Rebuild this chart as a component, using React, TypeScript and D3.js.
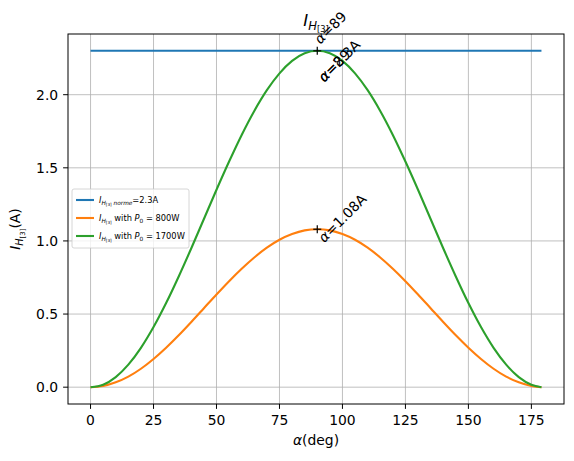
import { scaleLinear, line, curveMonotoneX } from "d3";
import type { ReactNode } from "react";

const angles = [0, 5, 10, 15, 20, 25, 30, 35, 40, 45, 50, 55, 60, 65, 70, 75, 80, 85, 90,
  95, 100, 105, 110, 115, 120, 125, 130, 135, 140, 145, 150, 155, 160, 165, 170, 175, 179];

const current800 = [0.0, 0.008, 0.033, 0.072, 0.126, 0.193, 0.27, 0.355, 0.446, 0.54, 0.634,
  0.725, 0.81, 0.887, 0.954, 1.008, 1.047, 1.072, 1.08, 1.072, 1.047, 1.008, 0.954, 0.887,
  0.81, 0.725, 0.634, 0.54, 0.446, 0.355, 0.27, 0.193, 0.126, 0.072, 0.033, 0.008, 0.0];

const current1700 = [0.0, 0.017, 0.069, 0.154, 0.269, 0.411, 0.575, 0.757, 0.95, 1.15, 1.35,
  1.543, 1.725, 1.889, 2.031, 2.146, 2.231, 2.283, 2.3, 2.283, 2.231, 2.146, 2.031, 1.889,
  1.725, 1.543, 1.35, 1.15, 0.95, 0.757, 0.575, 0.411, 0.269, 0.154, 0.069, 0.017, 0.0];

const normeValue = 2.3;
const xTicks = [0, 25, 50, 75, 100, 125, 150, 175];
const yTicks = [0.0, 0.5, 1.0, 1.5, 2.0];
const peakAngle = 90;

const FONT = "DejaVu Sans, sans-serif";
const BLUE = "#1f77b4";
const ORANGE = "#ff7f0e";
const GREEN = "#2ca02c";

// I_{H[3]} (optional extra word in the subscript), then the rest back on the baseline
function IH3({ size, extra, children }: { size: number; extra?: string; children?: ReactNode }) {
  const sub = size * 0.7;
  const subsub = size * 0.5;
  const drop = extra ? size * 0.22 : size * 0.34;
  return (
    <>
      <tspan fontStyle="italic" fontSize={size}>I</tspan>
      <tspan fontStyle="italic" fontSize={sub} dy={size * 0.22}>H</tspan>
      <tspan fontSize={subsub} dy={size * 0.12}>[3]</tspan>
      {extra ? <tspan fontSize={sub} fontStyle="italic" dy={-size * 0.12}> {extra}</tspan> : null}
      {children ? <tspan fontSize={size} dy={-drop}>{children}</tspan> : null}
    </>
  );
}

export default function App() {
  const width = 574;
  const height = 461;
  const left = 68;
  const right = 564;
  const top = 34;
  const bottom = 404;

  const x = scaleLinear().domain([-8.95, 187.95]).range([left, right]);
  const y = scaleLinear().domain([-0.115, 2.415]).range([bottom, top]);

  const path = line<number>()
    .x((_, i) => x(angles[i]))
    .y((d) => y(d))
    .curve(curveMonotoneX);

  const tickFont = 13.9;
  const legendFont = 8.3;
  const legendRows = [
    { color: BLUE, label: "norme", text: "=2.3A", p: "" },
    { color: ORANGE, label: "", text: " with ", p: "800W" },
    { color: GREEN, label: "", text: " with ", p: "1700W" },
  ];

  const peak800 = Math.max(...current800);
  const peak1700 = Math.max(...current1700);

  const plus = (cx: number, cy: number) => (
    <g stroke="#000" strokeWidth={1.2}>
      <line x1={cx - 4} x2={cx + 4} y1={cy} y2={cy} />
      <line x1={cx} x2={cx} y1={cy - 4} y2={cy + 4} />
    </g>
  );

  const rotText = (ox: number, oy: number, t: string) => (
    <text transform={`translate(${ox},${oy}) rotate(-45)`} fontSize={tickFont} fontFamily={FONT}>
      <tspan fontStyle="italic">α</tspan>
      <tspan>{t}</tspan>
    </text>
  );

  return (
    <div style={{ position: "absolute", left: 0, top: 0 }}>
      <svg width={width} height={height} viewBox={`0 0 ${width} ${height}`} style={{ display: "block", background: "#fff" }}>
        <rect x={0} y={0} width={width} height={height} fill="#fff" />
        {/* grid */}
        <g stroke="#b0b0b0" strokeWidth={0.8}>
          {xTicks.map((t) => (
            <line key={`gx${t}`} x1={x(t)} x2={x(t)} y1={top} y2={bottom} />
          ))}
          {yTicks.map((t) => (
            <line key={`gy${t}`} x1={left} x2={right} y1={y(t)} y2={y(t)} />
          ))}
        </g>

        {/* series */}
        <line x1={x(angles[0])} x2={x(angles[angles.length - 1])} y1={y(normeValue)} y2={y(normeValue)} stroke={BLUE} strokeWidth={2.1} />
        <path d={path(current800) ?? ""} fill="none" stroke={ORANGE} strokeWidth={2.1} />
        <path d={path(current1700) ?? ""} fill="none" stroke={GREEN} strokeWidth={2.1} />

        {/* peaks */}
        {plus(x(peakAngle), y(peak800))}
        {plus(x(peakAngle), y(peak1700))}
        {rotText(x(peakAngle) + 7, y(peak800) + 14, "=1.08A")}
        {rotText(x(peakAngle) + 3, y(peak1700) - 6, "=89")}
        {rotText(x(peakAngle) + 7, y(peak1700) + 32, "=2.3A")}
        {rotText(x(peakAngle) + 7, y(peak1700) + 32, "=89")}

        {/* spines */}
        <rect x={left} y={top} width={right - left} height={bottom - top} fill="none" stroke="#000" strokeWidth={1} />

        {/* x ticks */}
        {xTicks.map((t) => (
          <g key={`xt${t}`}>
            <line x1={x(t)} x2={x(t)} y1={bottom} y2={bottom + 4.9} stroke="#000" strokeWidth={1} />
            <text x={x(t)} y={bottom + 21} textAnchor="middle" fontSize={tickFont} fontFamily={FONT}>
              {t}
            </text>
          </g>
        ))}
        {/* y ticks */}
        {yTicks.map((t) => (
          <g key={`yt${t}`}>
            <line x1={left - 4.9} x2={left} y1={y(t)} y2={y(t)} stroke="#000" strokeWidth={1} />
            <text x={left - 9.8} y={y(t) + 5} textAnchor="end" fontSize={tickFont} fontFamily={FONT}>
              {t.toFixed(1)}
            </text>
          </g>
        ))}

        {/* axis labels */}
        <text x={(left + right) / 2} y={445} textAnchor="middle" fontSize={tickFont} fontFamily={FONT}>
          <tspan fontStyle="italic">α</tspan>
          <tspan>(deg)</tspan>
        </text>
        <text transform={`translate(20,${(top + bottom) / 2 + 10}) rotate(-90)`} textAnchor="middle" fontSize={tickFont} fontFamily={FONT}>
          <IH3 size={tickFont}>(A)</IH3>
        </text>

        {/* title */}
        <text x={(left + right) / 2} y={26} textAnchor="middle" fontSize={16.7} fontFamily={FONT}>
          <IH3 size={16.7} />
        </text>

        {/* legend */}
        <g fontFamily={FONT} fontSize={legendFont}>
          <rect x={72} y={189} width={117} height={59} rx={2} fill="#fff" fillOpacity={0.8} stroke="#cccccc" strokeWidth={0.8} />
          {legendRows.map((r, i) => {
            const ry = 200 + i * 18;
            return (
              <g key={`lg${i}`}>
                <line x1={76} x2={94} y1={ry} y2={ry} stroke={r.color} strokeWidth={2.1} />
                <text x={99} y={ry + 3}>
                  <IH3 size={legendFont} extra={r.label || undefined}>{r.text}</IH3>
                  {r.p ? (
                    <>
                      <tspan fontStyle="italic">P</tspan>
                      <tspan fontSize={legendFont * 0.7} dy={legendFont * 0.22}>0</tspan>
                      <tspan dy={-legendFont * 0.22}>{` = ${r.p}`}</tspan>
                    </>
                  ) : null}
                </text>
              </g>
            );
          })}
        </g>
      </svg>
    </div>
  );
}
